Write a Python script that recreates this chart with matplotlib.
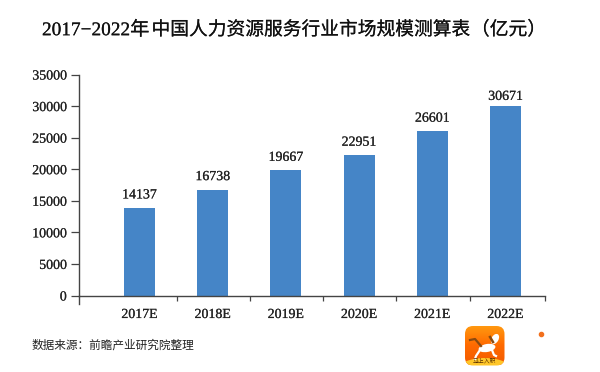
import numpy as np
import matplotlib.pyplot as plt
import matplotlib.patheffects as pe
from matplotlib.patches import FancyBboxPatch, Ellipse
from matplotlib.colors import LinearSegmentedColormap

plt.rcParams['font.family'] = ['Liberation Serif', 'Noto Sans CJK SC', 'DejaVu Sans']

years = ['2017E', '2018E', '2019E', '2020E', '2021E', '2022E']
labels = ['14137', '16738', '19667', '22951', '26601', '30671']
heights = [13850, 16750, 19800, 22200, 26000, 30000]
yticks = [0, 5000, 10000, 15000, 20000, 25000, 30000, 35000]
W, H = 600, 372
ink = '#222222'
heavy = [pe.withStroke(linewidth=0.12, foreground=ink)]

fig = plt.figure(figsize=(6, 3.72), dpi=100)
ax = fig.add_axes([78.5/W, 1-295.5/H, (545-78.5)/W, 221/H])
x = np.arange(len(years))
ax.bar(x, heights, width=0.425, color='#4585c7', edgecolor='none')
for i in x:
    # last label sits closer to its bar in the original
    gap = 500 if i == 5 else 1050
    ax.text(i, heights[i] + gap, labels[i], ha='center', va='bottom', fontsize=10, color=ink, path_effects=heavy)

xright = 5.54
ax.set_xlim(-0.833, xright)
ax.set_ylim(0, 35000)
ax.set_yticks(yticks)
ax.set_xticks(x)
ax.set_xticklabels(years)
ax.set_xticks(list(x[:-1] + 0.51) + [xright], minor=True)
ax.tick_params(axis='x', which='major', length=0, pad=9, labelsize=10, labelcolor=ink)
ax.tick_params(axis='x', which='minor', length=3.5, width=0.9, color='#444444')
ax.tick_params(axis='y', length=5.5, width=0.9, color='#444444', pad=3, labelsize=10, labelcolor=ink)
for t in ax.get_xticklabels() + ax.get_yticklabels():
    t.set_path_effects(heavy)
for s in ['top', 'right']:
    ax.spines[s].set_visible(False)
for s in ['left', 'bottom']:
    ax.spines[s].set_color('#444444')
    ax.spines[s].set_linewidth(1.0)
# left axis runs on a little below the baseline
ax.plot([0, 0], [0, -8/221], transform=ax.transAxes, color='#444444', lw=1.0, clip_on=False)

# title is spaced wider than one string allows, so it goes in three pieces
for left, part, size in [(42, '2017−2022年', 13.9), (151.5, '中国人力资源服务行业市场规模测算表', 13.5), (471, '（亿元）', 13.5)]:
    fig.text(left/W, 1-30/H, part, ha='left', va='center', fontsize=size, color='#111111', path_effects=heavy)
fig.text(32/W, 1-346/H, '数据来源：前瞻产业研究院整理', ha='left', va='center', fontsize=8.4, color=ink)

# app badge in the lower right
bg = fig.add_axes([0, 0, 1, 1], zorder=5)
bg.axis('off')
grad = np.linspace(0, 1, 40)[:, None]
im = bg.imshow(grad, extent=[465, 504.5, 365.5, 326], origin='upper', aspect='auto', zorder=1,
               cmap=LinearSegmentedColormap.from_list('badge', ['#ff9a10', '#ff6a00', '#f25a00']))
bg.set_xlim(0, W)
bg.set_ylim(H, 0)
box = FancyBboxPatch((465, 326), 39.5, 39.5, boxstyle='round,pad=0,rounding_size=8', fc='none', ec='none')
bg.add_patch(box)
im.set_clip_path(box)
band = Ellipse((484.7, 368), 50, 20, fc='#ffc629', ec='none', zorder=2)
bg.add_patch(band)
band.set_clip_path(box)
bg.add_patch(Ellipse((487, 348), 17, 8, angle=-10, fc='white', ec='none', zorder=3))
bg.add_patch(Ellipse((495, 339), 7, 11, angle=30, fc='white', ec='none', zorder=3))
bg.plot([480, 476, 475], [350, 356, 359], color='white', lw=1.6, zorder=3)
bg.plot([492, 494, 496], [350, 355, 356], color='white', lw=1.6, zorder=3)
bg.plot([481, 475, 470], [346, 339, 340], color='#8a4a10', lw=1.6, zorder=3)
bg.plot([490, 493], [337, 342], color='#8a4a10', lw=1.8, zorder=4)
bg.text(484.7, 361, '马上入职', ha='center', va='center', fontsize=4.2, color='#5a3000', zorder=4,
        family=['Noto Sans CJK SC', 'DejaVu Sans'])
bg.scatter([541], [334], s=9, color='#f2701d', zorder=3)

fig.savefig('out.png', dpi=100)
